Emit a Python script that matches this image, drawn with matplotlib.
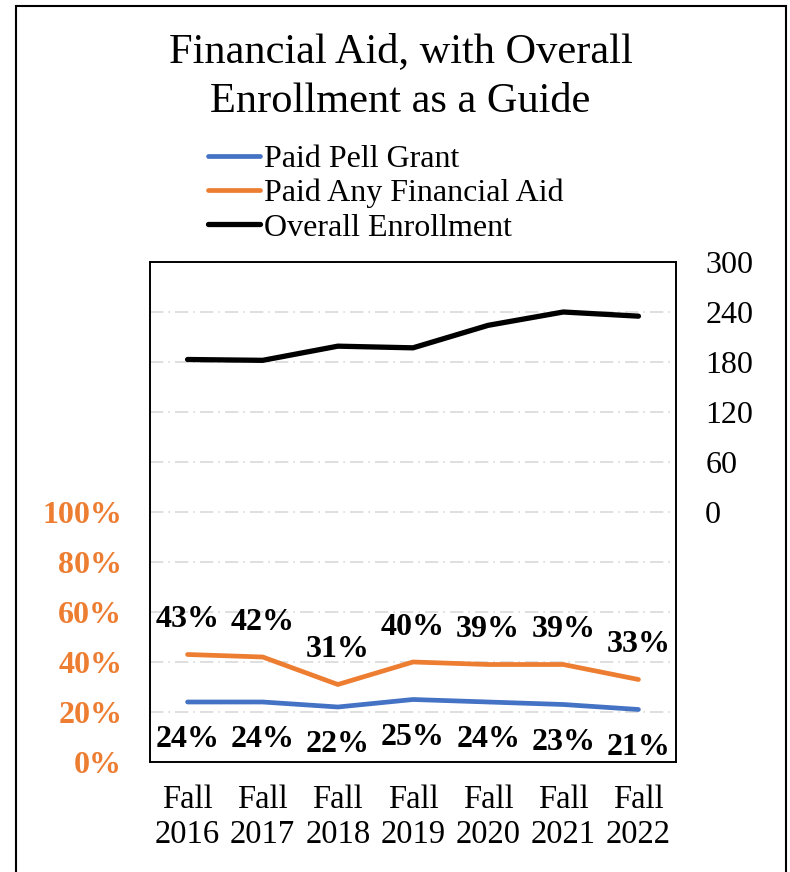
import matplotlib.pyplot as plt
from matplotlib.patches import Rectangle

plt.rcParams['font.family'] = ['Liberation Serif', 'DejaVu Serif']

years = ["Fall\n2016", "Fall\n2017", "Fall\n2018", "Fall\n2019", "Fall\n2020", "Fall\n2021", "Fall\n2022"]
pell = [24, 24, 22, 25, 24, 23, 21]
any_aid = [43, 42, 31, 40, 39, 39, 33]
enrollment = [183, 182, 199, 197, 224, 240, 235]

BLUE = "#4472c4"
ORANGE = "#ed7d31"

fig = plt.figure(figsize=(7.9, 8.72), dpi=100)
ax = fig.add_axes([150 / 790, 1 - 762 / 872, 526 / 790, 500 / 872])
ax2 = ax.twinx()

x = list(range(len(years)))
l1, = ax.plot(x, pell, color=BLUE, lw=3.4, solid_capstyle='round', label="Paid Pell Grant")
l2, = ax.plot(x, any_aid, color=ORANGE, lw=3.4, solid_capstyle='round', label="Paid Any Financial Aid")
l3, = ax2.plot(x, enrollment, color="black", lw=3.8, solid_capstyle='round', label="Overall Enrollment")

# data labels
for i, v in enumerate(any_aid):
    ax.annotate(f"{v}%", (i, v), xytext=(0, 25), textcoords="offset points",
                ha="center", va="center", fontsize=23, fontweight="bold")
for i, v in enumerate(pell):
    ax.annotate(f"{v}%", (i, v), xytext=(0, -27), textcoords="offset points",
                ha="center", va="center", fontsize=23, fontweight="bold")

ax.set_xlim(-0.5, 6.5)
ax.set_ylim(0, 200)
ax.set_yticks(range(0, 201, 20))
ax.set_yticklabels([f"{t}%" if t <= 100 else "" for t in range(0, 201, 20)])
ax.tick_params(axis="y", length=0, labelsize=23, labelcolor=ORANGE, pad=20)
for lab in ax.get_yticklabels():
    lab.set_fontweight("bold")
ax.set_xticks(x)
ax.set_xticklabels(years, fontsize=23.5, linespacing=1.2)
ax.tick_params(axis="x", length=0, pad=16)
ax.grid(axis="y", color="#d9d9d9", lw=1.2, dashes=(8, 3, 1, 3))
ax.set_axisbelow(True)

ax2.set_ylim(-300, 300)
ax2.set_yticks(range(0, 301, 60))
ax2.tick_params(axis="y", length=0, labelsize=23, pad=21)

for a in (ax, ax2):
    for s in a.spines.values():
        s.set_linewidth(1.2)
        s.set_color("black")

fig.text(0.507, 0.912, "Financial Aid, with Overall\nEnrollment as a Guide",
         ha="center", va="center", fontsize=30.5, linespacing=1.38)

fig.legend(handles=[l1, l2, l3], loc="upper left", bbox_to_anchor=(195 / 790, 1 - 132 / 872),
           frameon=False, fontsize=23, handlelength=1.65, handletextpad=0.12,
           labelspacing=0.15, borderaxespad=0)

fig.patches.append(Rectangle((16 / 790, -0.01), 770 / 790, 1 - 6 / 872 + 0.01,
                             transform=fig.transFigure, fill=False, lw=1.5, ec="black"))

fig.savefig("out.png", dpi=100)
